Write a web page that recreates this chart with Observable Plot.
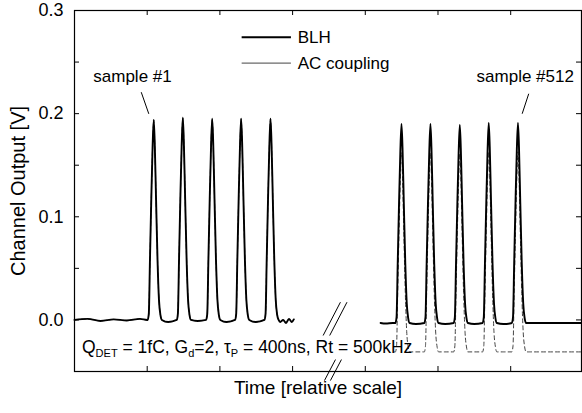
<!DOCTYPE html>
<html><head><meta charset="utf-8">
<script src="https://cdn.jsdelivr.net/npm/d3@7"></script>
<script src="https://cdn.jsdelivr.net/npm/@observablehq/plot@0.6"></script>
<style>
html,body{margin:0;padding:0;background:#fff;}
svg{display:block;}
</style>
</head><body><div id="chart"></div>
<script>
// ---------- data (time in µs, output in V) ----------
const xTicks = [5, 10, 15, 20, 25, 30];
const yTicks = [0, 0.05, 0.1, 0.15, 0.2, 0.25];
const yTickLabels = [0, 0.1, 0.2, 0.3];

// pulse shape: offset from peak (µs) and fraction of peak
const shapeDt   = [-0.42, -0.34, -0.26, -0.17, -0.08, 0, 0.07, 0.16, 0.26, 0.36, 0.46, 0.56];
const shapeFrac = [0, 0.03, 0.30, 0.60, 0.86, 1, 0.88, 0.60, 0.30, 0.10, 0.025, 0];

// first group (sample #1 ...)
const g1Peaks   = [5.45, 7.45, 9.47, 11.46, 13.48];
const g1Heights = [0.194, 0.196, 0.195, 0.195, 0.195];
const g1Base = 0.0;
const g1Lead = [[0.0, 0.000], [0.9, 0.001], [1.8, -0.001], [2.7, 0.0005], [3.6, -0.0005], [4.5, 0.001], [5.0, 0.000]];
const g1Gap  = [-0.002, -0.001, -0.002, -0.002];
const g1Tail = [[14.15, -0.002], [14.35, 0.0], [14.55, -0.003], [14.75, 0.001], [14.95, -0.002], [15.08, 0.0005]];

// last group (... sample #512)
const g2Peaks   = [22.49, 24.48, 26.50, 28.49, 30.50];
const g2Heights = [0.193, 0.193, 0.192, 0.194, 0.194];
const g2Base = -0.003;
const g2Lead = [[21.05, -0.003], [21.4, -0.0035], [21.9, -0.003]];
const g2Gap  = [-0.004, -0.004, -0.004, -0.004];
const g2Tail = [[31.3, -0.003], [33.0, -0.003], [34.87, -0.003]];

// AC coupling: baseline shifted down in the last group
const acBase = -0.031;
const acLead = [[22.0, -0.031]];
const acGap  = [-0.031, -0.031, -0.031, -0.031];
const acTail = [[31.3, -0.031], [34.87, -0.031]];

// annotations
const sampleLabels = [{x: 3.99, y: 0.236, text: "sample #1"}, {x: 31.0, y: 0.236, text: "sample #512"}];
const leaders = [{x1: 4.59, y1: 0.2208, x2: 5.11, y2: 0.1998}, {x1: 31.24, y1: 0.2193, x2: 30.79, y2: 0.1999}];
const breaks = [
  {x1: 17.10, y1: -0.0151, x2: 18.29, y2: 0.0172},
  {x1: 17.55, y1: -0.0151, x2: 18.74, y2: 0.0172},
  {x1: 17.19, y1: -0.0588, x2: 17.95, y2: -0.0384},
  {x1: 17.60, y1: -0.0588, x2: 18.36, y2: -0.0384}
];
const legendRows = [{y: 0.274, text: "BLH", dash: null}, {y: 0.249, text: "AC coupling", dash: "4,3"}];
const legendX = [11.53, 14.92, 15.35];
const noteParts = [["Q", 0], ["DET", 1], [" = 1fC, G", 0], ["d", 1], ["=2, \u03C4", 0], ["P", 1], [" = 400ns, Rt = 500kHz", 0]];
const notePos = {x: 0.55, y: -0.0326};

// ---------- build series ----------
function buildSeries(lead, peaks, heights, base, gaps, tail, series) {
  const pts = lead.map(([x, y]) => ({x, y, series}));
  peaks.forEach((p, i) => {
    shapeDt.forEach((dt, j) => pts.push({x: p + dt, y: base + shapeFrac[j] * heights[i], series}));
    if (i < gaps.length) pts.push({x: (p + peaks[i + 1]) / 2, y: gaps[i], series});
  });
  tail.forEach(([x, y]) => pts.push({x, y, series}));
  return pts;
}
const blh1 = buildSeries(g1Lead, g1Peaks, g1Heights, g1Base, g1Gap, g1Tail, "BLH1");
const blh2 = buildSeries(g2Lead, g2Peaks, g2Heights, g2Base, g2Gap, g2Tail, "BLH2");
const ac1 = blh1.map(d => ({...d, series: "AC1"}));
const ac2 = buildSeries(acLead, g2Peaks, g2Heights, acBase, acGap, acTail, "AC2");

const font = "'Liberation Sans', Arial, Helvetica, sans-serif";

const plot = Plot.plot({
  width: 582,
  height: 413,
  marginLeft: 74,
  marginRight: 1,
  marginTop: 10,
  marginBottom: 42,
  style: {fontFamily: font, color: "#000", background: "#fff"},
  x: {domain: [0, 34.87], axis: null},
  y: {domain: [-0.05, 0.3]},
  marks: [
    Plot.frame({stroke: "#000", strokeWidth: 1.2}),
    Plot.tickX(xTicks, {x: d => d, insetTop: 356, stroke: "#000"}),
    Plot.tickX(xTicks, {x: d => d, insetBottom: 356, stroke: "#000"}),
    Plot.tickY(yTicks, {y: d => d, insetRight: 502, stroke: "#000"}),
    Plot.tickY(yTicks, {y: d => d, insetLeft: 502, stroke: "#000"}),
    Plot.axisY(yTickLabels, {tickSize: 0, tickPadding: 11, tickFormat: d3.format(".1f"), fontSize: 18, label: null}),
    Plot.text(["Channel Output [V]"], {frameAnchor: "left", textAnchor: "middle", rotate: -90, dx: -56, fontSize: 20, fill: "#000"}),
    Plot.text(["Time [relative scale]"], {frameAnchor: "bottom", textAnchor: "middle", dx: -10, dy: 22, fontSize: 19, fill: "#000"}),
    // AC coupling (dashed) under BLH
    Plot.line([...ac1, ...ac2], {x: "x", y: "y", z: "series", stroke: "#444", strokeWidth: 1, strokeDasharray: "4,3", curve: "monotone-x"}),
    Plot.line([...blh1, ...blh2], {x: "x", y: "y", z: "series", stroke: "#000", strokeWidth: 1.9, curve: "monotone-x"}),
    // annotations
    Plot.text(sampleLabels, {x: "x", y: "y", text: "text", fontSize: 17, fill: "#000"}),
    Plot.link(leaders, {x1: "x1", y1: "y1", x2: "x2", y2: "y2", stroke: "#000", strokeWidth: 1}),
    Plot.link(breaks, {x1: "x1", y1: "y1", x2: "x2", y2: "y2", stroke: "#000", strokeWidth: 1}),
    // legend
    Plot.ruleY(legendRows, {y: "y", x1: legendX[0], x2: legendX[1], stroke: d => d.dash ? "#444" : "#000", strokeWidth: d => d.dash ? 1 : 1.9, strokeDasharray: d => d.dash}),
    Plot.text(legendRows, {x: legendX[2], y: "y", text: "text", textAnchor: "start", fontSize: 17, fill: "#000"})
  ]
});

// condition note with subscripts
const xs = plot.scale("x"), ys = plot.scale("y");
const note = d3.select(plot).append("text")
  .attr("x", xs.apply(notePos.x)).attr("y", ys.apply(notePos.y))
  .attr("text-anchor", "start")
  .attr("font-family", font).attr("font-size", 17.5).attr("fill", "#000");
let shifted = false;
noteParts.forEach(([s, sub]) => {
  const t = note.append("tspan").text(s);
  if (sub && !shifted) { t.attr("dy", 4).attr("font-size", 11); shifted = true; }
  else if (!sub && shifted) { t.attr("dy", -4); shifted = false; }
});

document.getElementById("chart").appendChild(plot);
</script>
</body></html>
